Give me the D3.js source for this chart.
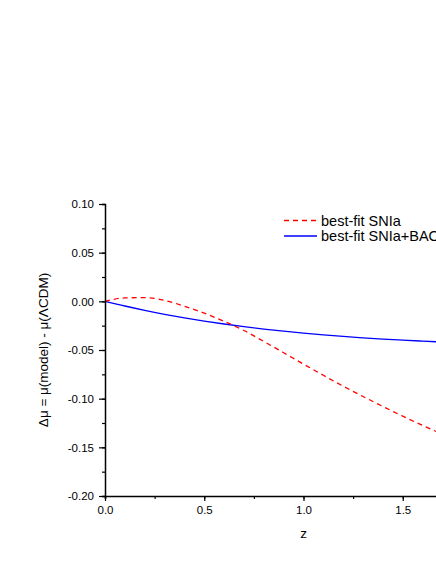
<!DOCTYPE html>
<html>
<head>
<meta charset="utf-8">
<script src="https://cdn.jsdelivr.net/npm/d3@7"></script>
<style>
  body { margin: 0; background: #fff; }
  svg { display: block; font-family: "Liberation Sans", Arial, sans-serif; }
</style>
</head>
<body>
<div id="chart"></div>
<script>
// Redshift samples shared by both curves.
const zValues = [0, 0.1, 0.2, 0.3, 0.4, 0.5, 0.6, 0.7, 0.8, 0.9, 1.0,
  1.1, 1.2, 1.3, 1.4, 1.5, 1.6, 1.7, 1.8, 1.9, 2.0];
// Best-fit SNIa (red dashed).
const snIa = [0, 0.0035, 0.0038, 0.0010, -0.0050, -0.0122, -0.0205, -0.0300, -0.0412,
  -0.0528, -0.0645, -0.0760, -0.0872, -0.0978, -0.1080, -0.1180, -0.1275, -0.1365,
  -0.1450, -0.1530, -0.1605];
// Best-fit SNIa+BAO (blue solid).
const snIaBao = [0, -0.0048, -0.0092, -0.0133, -0.0170, -0.0203, -0.0233, -0.0260,
  -0.0285, -0.0307, -0.0327, -0.0345, -0.0361, -0.0375, -0.0388, -0.0399, -0.0409,
  -0.0418, -0.0426, -0.0433, -0.0439];
const xTicks = [0, 0.5, 1.0, 1.5];
const yTicks = [0.10, 0.05, 0.00, -0.05, -0.10, -0.15, -0.20];
const legendLabels = ["best-fit SNIa", "best-fit SNIa+BAO"];

const width = 436, height = 564;
const svg = d3.select("#chart").append("svg")
  .attr("width", width)
  .attr("height", height);

// Plot area (extends past the right edge, like the cropped original).
const x = d3.scaleLinear().domain([0, 2]).range([105, 502]);
const y = d3.scaleLinear().domain([-0.20, 0.10]).range([496, 204]);

// Plain hyphen for negatives, as in the original.
const fmt = p => d => d3.format(`.${p}f`)(d).replace("\u2212", "-");

// Curves.
const line = d3.line()
  .x(d => x(d[0]))
  .y(d => y(d[1]))
  .curve(d3.curveMonotoneX);

svg.append("path")
  .datum(zValues.map((z, i) => [z, snIaBao[i]]))
  .attr("d", line)
  .attr("fill", "none")
  .attr("stroke", "#0000ff")
  .attr("stroke-width", 1.3);

svg.append("path")
  .datum(zValues.map((z, i) => [z, snIa[i]]))
  .attr("d", line)
  .attr("fill", "none")
  .attr("stroke", "#ff0000")
  .attr("stroke-width", 1.3)
  .attr("stroke-dasharray", "5,4");

// X axis with minor ticks.
const xAxis = svg.append("g").attr("transform", `translate(0,${y(-0.20)})`);
xAxis.call(d3.axisBottom(x).tickValues(d3.range(0, 2.01, 0.25)).tickSize(3).tickFormat(""));
xAxis.selectAll(".tick line").attr("stroke-width", 1.2);
xAxis.select(".domain").attr("stroke-width", 1.5);
const xMajor = svg.append("g").attr("transform", `translate(0,${y(-0.20)})`)
  .call(d3.axisBottom(x).tickValues(xTicks).tickSize(5).tickPadding(5).tickFormat(fmt(1)));
xMajor.select(".domain").remove();
xMajor.selectAll(".tick line").attr("stroke-width", 1.2);
xMajor.selectAll("text").attr("font-size", 11.5).attr("font-family", "Liberation Sans, Arial, sans-serif");

// Y axis with minor ticks.
const yAxis = svg.append("g").attr("transform", `translate(${x(0)},0)`);
yAxis.call(d3.axisLeft(y).tickValues(d3.range(-0.20, 0.101, 0.025)).tickSize(3).tickFormat(""));
yAxis.selectAll(".tick line").attr("stroke-width", 1.2);
yAxis.select(".domain").attr("stroke-width", 1.5);
const yMajor = svg.append("g").attr("transform", `translate(${x(0)},0)`)
  .call(d3.axisLeft(y).tickValues(yTicks).tickSize(6).tickPadding(5).tickFormat(fmt(2)));
yMajor.select(".domain").remove();
yMajor.selectAll(".tick line").attr("stroke-width", 1.2);
yMajor.selectAll("text").attr("font-size", 11.5).attr("font-family", "Liberation Sans, Arial, sans-serif");

// Axis titles.
svg.append("text")
  .attr("x", x(1))
  .attr("y", 538)
  .attr("text-anchor", "middle")
  .attr("font-size", 13.5)
  .text("z");

svg.append("text")
  .attr("transform", `translate(48,${y(-0.05)}) rotate(-90)`)
  .attr("text-anchor", "middle")
  .attr("font-size", 13.5)
  .text("\u0394\u03bc = \u03bc(model) - \u03bc(\u039bCDM)");

// Legend.
const legend = svg.append("g");
const legendStyles = [
  { color: "#ff0000", dash: "5,4" },
  { color: "#0000ff", dash: null }
];
legendLabels.forEach((label, i) => {
  const ly = 220.5 + i * 15.5;
  legend.append("line")
    .attr("x1", 284).attr("x2", 317)
    .attr("y1", ly).attr("y2", ly)
    .attr("stroke", legendStyles[i].color)
    .attr("stroke-width", 1.3)
    .attr("stroke-dasharray", legendStyles[i].dash);
  legend.append("text")
    .attr("x", 321)
    .attr("y", ly)
    .attr("dy", "0.35em")
    .attr("font-size", 14.5)
    .text(label);
});
</script>
</body>
</html>
